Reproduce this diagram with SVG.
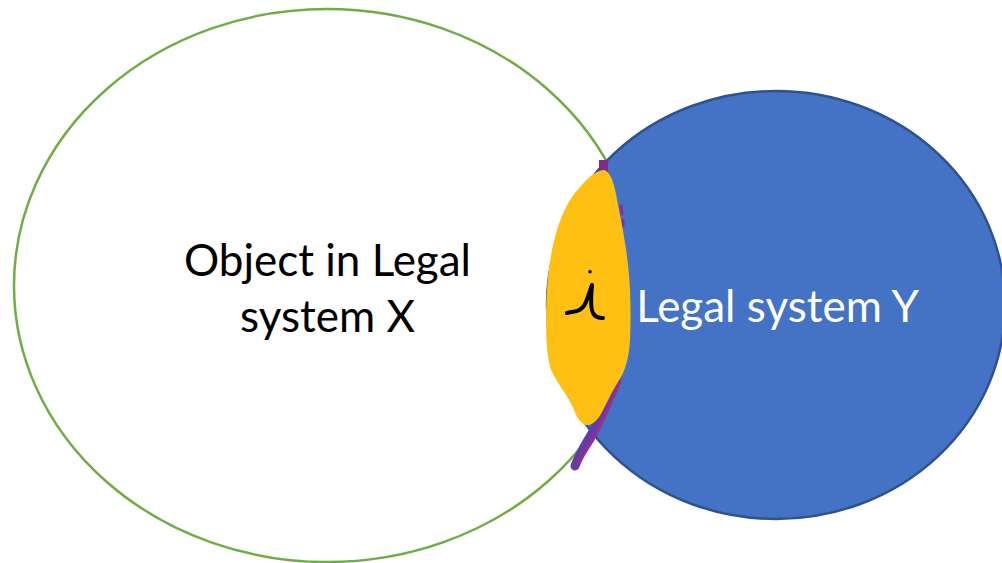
<svg xmlns="http://www.w3.org/2000/svg" width="1002" height="563" viewBox="0 0 1002 563">
  <style>
    .label { font-family: Lato, "Liberation Sans", sans-serif; font-size: 44px; text-anchor: middle; }
    .dark { fill: #000000; }
    .light { fill: #FFFFFF; }
    .set-x { fill: #FFFFFF; stroke: #70AD47; stroke-width: 2.5; }
    .set-y { fill: #4472C4; stroke: #2F528F; stroke-width: 2.5; }
    .mark { fill: none; stroke-linecap: round; stroke-linejoin: round; }
  </style>

  <rect width="1002" height="563" fill="#FFFFFF"/>

  <!-- Set X: outlined ellipse on the left -->
  <g id="object-x">
    <ellipse class="set-x" cx="327" cy="285.5" rx="313" ry="276.5"/>
  </g>

  <!-- Set Y: filled ellipse on the right, drawn over X -->
  <g id="system-y">
    <ellipse class="set-y" cx="776" cy="305" rx="229" ry="214"/>
    <text class="label light" x="777.5" y="322">Legal system Y</text>
  </g>

  <!-- Hand-drawn marking of the overlap -->
  <g id="overlap">
    <!-- purple marker strokes along the boundary -->
    <rect x="599" y="160" width="9" height="12" fill="#7F2A8C"/>
    <path class="mark" d="M621,206 L622,214" stroke="#8A2E96" stroke-width="3"/>
    <path class="mark" d="M623,220 L623,226" stroke="#8A2E96" stroke-width="3"/>
    <path class="mark" d="M617,378 C608,400 598,425 588,440 C582,450 578,458 575,466" stroke="#6A3AA6" stroke-width="9"/>
    <path class="mark" d="M620,382 C611,403 601,427 592,442 C586,451 582,458 579,463" stroke="#A02C8C" stroke-width="2.5"/>
    <path class="mark" d="M613,386 C605,405 596,424 586,439 C581,447 577,455 573,463" stroke="#5A3FA8" stroke-width="2"/>

    <!-- yellow highlighted region -->
    <path fill="#FFC014" d="M604,170
      C611,172 615,185 618,205
      C622,225 626,245 628,265
      C631,290 631,320 630,340
      C629,358 625,372 618,382
      C611,393 606,405 601,414
      C597,421 591,426 586,425
      C579,423 576,415 572,405
      C566,393 557,383 552,372
      C547,360 546,340 546,320
      C546,295 548,270 552,250
      C556,230 562,212 572,197
      C582,184 594,170 604,170 Z"/>

    <!-- handwritten i -->
    <circle cx="590" cy="271.7" r="1.8" fill="#000000"/>
    <path class="mark" stroke="#000000" stroke-width="4"
      d="M567,313 C575,311 582,312 586,302 C589,294 591,288 592,285 C591,296 590,308 593,313 C595,317 599,318 603,318"/>
  </g>

  <!-- Label of set X, placed after the overlap so it stays on top -->
  <g id="object-x-label">
    <text class="label dark" x="327.5" y="276">Object in Legal</text>
    <text class="label dark" x="327.5" y="332">system X</text>
  </g>
</svg>
